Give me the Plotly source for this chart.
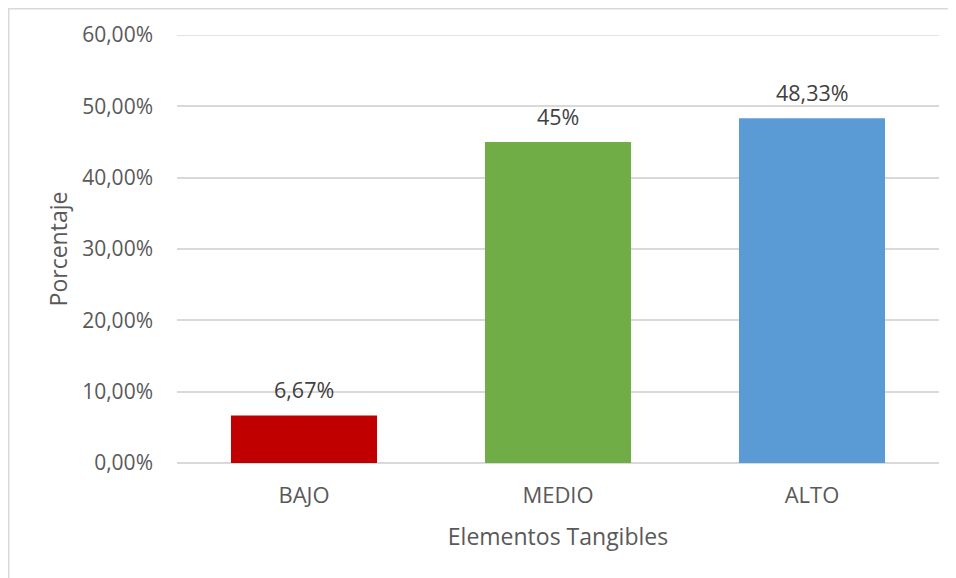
import plotly.graph_objects as go

categories = ["BAJO", "MEDIO", "ALTO"]
values = [0.0667, 0.45, 0.4833]
value_labels = ["6,67%", "45%", "48,33%"]
colors = ["#C00000", "#70AD47", "#5B9BD5"]
y_ticks = [0, 0.1, 0.2, 0.3, 0.4, 0.5, 0.6]

FONT = "Open Sans"
GRID = "#D9D9D9"
fig = go.Figure()
fig.add_trace(go.Bar(
    x=categories, y=values, marker=dict(color=colors, line=dict(width=0)),
    width=0.575, hoverinfo="skip",
))
for c, v, t in zip(categories, values, value_labels):
    fig.add_annotation(x=c, y=v, text=t, showarrow=False, yanchor="middle",
                       yshift=26, font=dict(family=FONT, size=21.5, color="#404040"))

# top gridline (at the range edge, which plotly omits)
fig.add_shape(type="line", xref="paper", yref="y", x0=0, x1=1,
              y0=y_ticks[-1], y1=y_ticks[-1], line=dict(color=GRID, width=1.5),
              layer="below")
# chart frame
fig.add_shape(type="rect", xref="paper", yref="paper",
              x0=-0.2208, x1=1.2, y0=-0.5, y1=1.0613,
              line=dict(color=GRID, width=1.5), layer="below")

fig.update_layout(
    width=956, height=578,
    margin=dict(l=169, r=25, t=27, b=123),
    paper_bgcolor="white", plot_bgcolor="white",
    separators=",.",
    showlegend=False,
    font=dict(family=FONT, size=20, color="#595959"),
    bargap=0.425,
)
fig.update_xaxes(
    showgrid=False, showline=False, zeroline=False, ticks="",
    tickfont=dict(size=22, color="#595959"),
    title=dict(text="Elementos Tangibles", font=dict(size=23, color="#595959"), standoff=20),
    ticklabelstandoff=17,
)
fig.update_yaxes(
    range=[0, 0.6], tickvals=y_ticks, tickformat=".2%",
    showgrid=True, gridcolor=GRID, gridwidth=1.5,
    zeroline=True, zerolinecolor=GRID, zerolinewidth=1.5,
    showline=False, ticks="",
    tickfont=dict(size=21, color="#595959"),
    ticklabelstandoff=23,
    title=dict(text="Porcentaje", font=dict(size=23, color="#595959"), standoff=8),
)
fig.write_html("out.html")
